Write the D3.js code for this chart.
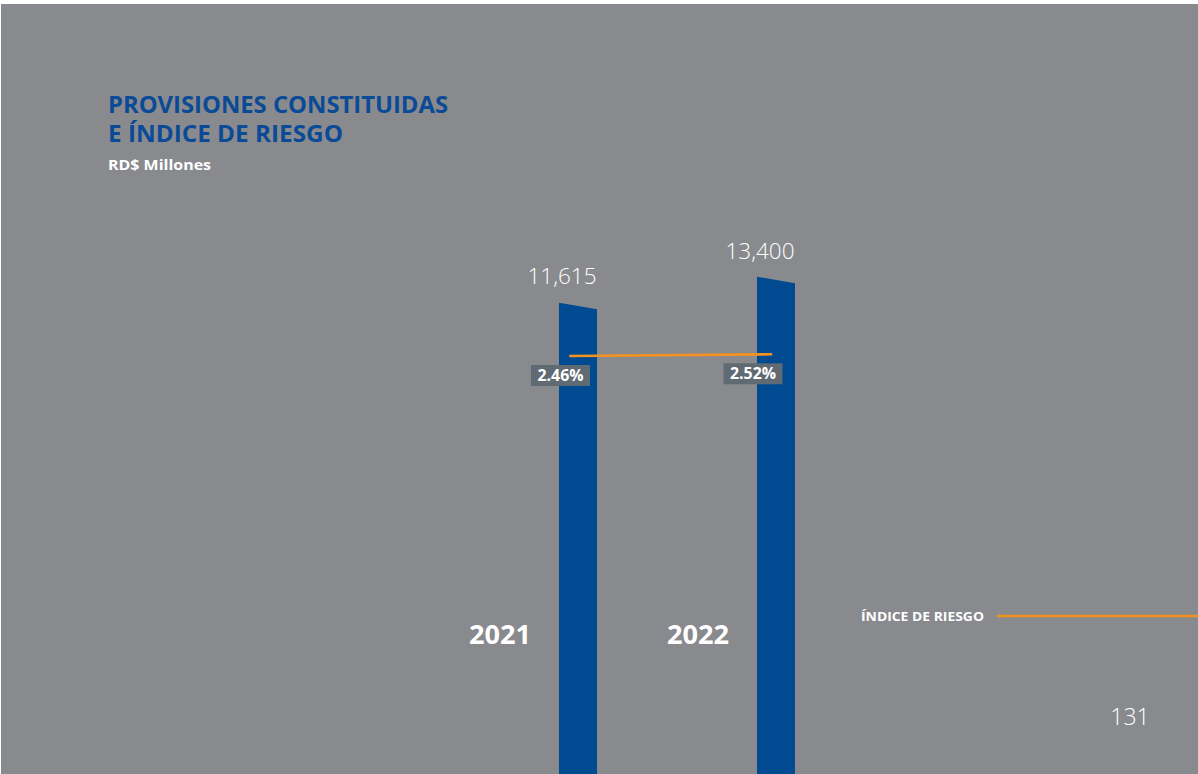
<!DOCTYPE html>
<html>
<head>
<meta charset="utf-8">
<script src="https://cdn.jsdelivr.net/npm/d3@7"></script>
<style>
  html, body { margin: 0; padding: 0; background: #ffffff; }
  svg { display: block; }
</style>
</head>
<body>
<svg id="chart" width="1198" height="774"></svg>
<script>
// Provisiones constituidas (RD$ millones) e índice de riesgo
const years = ["2021", "2022"];
const provisiones = [11615, 13400];
const indiceRiesgo = [2.46, 2.52];
const valueLabels = ["11,615", "13,400"];
const indiceLabels = ["2.46%", "2.52%"];
const titleLines = ["PROVISIONES CONSTITUIDAS", "E ÍNDICE DE RIESGO"];
const subtitle = "RD$ Millones";
const legendLabel = "ÍNDICE DE RIESGO";
const pageNumber = "131";

const W = 1198, H = 774;
const BG = "#898a8e", BLUE = "#004a91", ORANGE = "#f39220", TAG = "#5f6a72";
const FONT = "'Open Sans', 'DejaVu Sans', sans-serif";

const svg = d3.select("#chart");

// page background
svg.append("rect").attr("x", 1).attr("y", 4).attr("width", W - 1).attr("height", H - 4).attr("fill", BG);

// scales
const x = d3.scaleBand().domain(years).range([559, 795]).paddingInner(0.808).paddingOuter(0);
const y = d3.scaleLinear().domain([0, 13400]).range([475, 280]);
const yIdx = d3.scaleLinear().domain([0, 3]).range([425.6, 340.7]);

const bw = x.bandwidth();
const slant = 3.3;

// bars with a slanted top, running off the bottom of the page
svg.append("g").selectAll("path").data(years).join("path")
  .attr("d", (d, i) => {
    const x0 = x(d), x1 = x(d) + bw, yt = y(provisiones[i]);
    return `M${x0},${yt - slant}L${x1},${yt + slant}L${x1},${H}L${x0},${H}Z`;
  })
  .attr("fill", BLUE);

// value labels above bars
svg.append("g").selectAll("text").data(years).join("text")
  .attr("x", d => x(d) + 3)
  .attr("y", (d, i) => y(provisiones[i]) - 21.5)
  .attr("text-anchor", "middle")
  .attr("font-family", FONT).attr("font-weight", 300).attr("font-size", 22.5)
  .attr("fill", "#ffffff")
  .text((d, i) => valueLabels[i]);

// year labels
svg.append("g").selectAll("text").data(years).join("text")
  .attr("x", d => x(d) - 59)
  .attr("y", 644)
  .attr("text-anchor", "middle")
  .attr("font-family", FONT).attr("font-weight", 700).attr("font-size", 26)
  .attr("fill", "#ffffff")
  .attr("textLength", 62).attr("lengthAdjust", "spacingAndGlyphs")
  .text(d => d);

// risk index line
const linePos = [0.27, 0.4];
const line = d3.line()
  .x((d, i) => x(years[i]) + bw * linePos[i])
  .y(d => yIdx(d));
svg.append("path").datum(indiceRiesgo)
  .attr("d", line)
  .attr("fill", "none").attr("stroke", ORANGE).attr("stroke-width", 2.6);

// risk index tags
const tags = svg.append("g").selectAll("g").data(years).join("g")
  .attr("transform", (d, i) => `translate(${x(d) + (i === 0 ? 1.5 : -4)},${yIdx(indiceRiesgo[i]) + 19.5})`);
tags.append("rect")
  .attr("x", -29.5).attr("y", -10.5).attr("width", 59).attr("height", 21)
  .attr("fill", TAG);
tags.append("text")
  .attr("x", 0).attr("y", 5.5)
  .attr("text-anchor", "middle")
  .attr("font-family", FONT).attr("font-weight", 700).attr("font-size", 15.5)
  .attr("fill", "#ffffff")
  .attr("textLength", 46).attr("lengthAdjust", "spacingAndGlyphs")
  .text((d, i) => indiceLabels[i]);

// title block
svg.append("g").selectAll("text").data(titleLines).join("text")
  .attr("x", 108)
  .attr("y", (d, i) => 113 + i * 29)
  .attr("font-family", FONT).attr("font-weight", 700).attr("font-size", 22.5)
  .attr("fill", "#0a4a96")
  .attr("textLength", (d, i) => i === 0 ? 340 : 235)
  .attr("lengthAdjust", "spacingAndGlyphs")
  .text(d => d);

svg.append("text")
  .attr("x", 108).attr("y", 170)
  .attr("font-family", FONT).attr("font-weight", 700).attr("font-size", 14.5)
  .attr("fill", "#ffffff")
  .attr("textLength", 103).attr("lengthAdjust", "spacingAndGlyphs")
  .text(subtitle);

// legend
svg.append("text")
  .attr("x", 861).attr("y", 620.5)
  .attr("font-family", FONT).attr("font-weight", 700).attr("font-size", 12)
  .attr("fill", "#ffffff")
  .attr("textLength", 123).attr("lengthAdjust", "spacingAndGlyphs")
  .text(legendLabel);
svg.append("line")
  .attr("x1", 997).attr("x2", W).attr("y1", 616).attr("y2", 616)
  .attr("stroke", ORANGE).attr("stroke-width", 2.4);

// page number
svg.append("text")
  .attr("x", 1130).attr("y", 725)
  .attr("text-anchor", "middle")
  .attr("font-family", FONT).attr("font-weight", 300).attr("font-size", 23)
  .attr("fill", "#ffffff")
  .text(pageNumber);
</script>
</body>
</html>
